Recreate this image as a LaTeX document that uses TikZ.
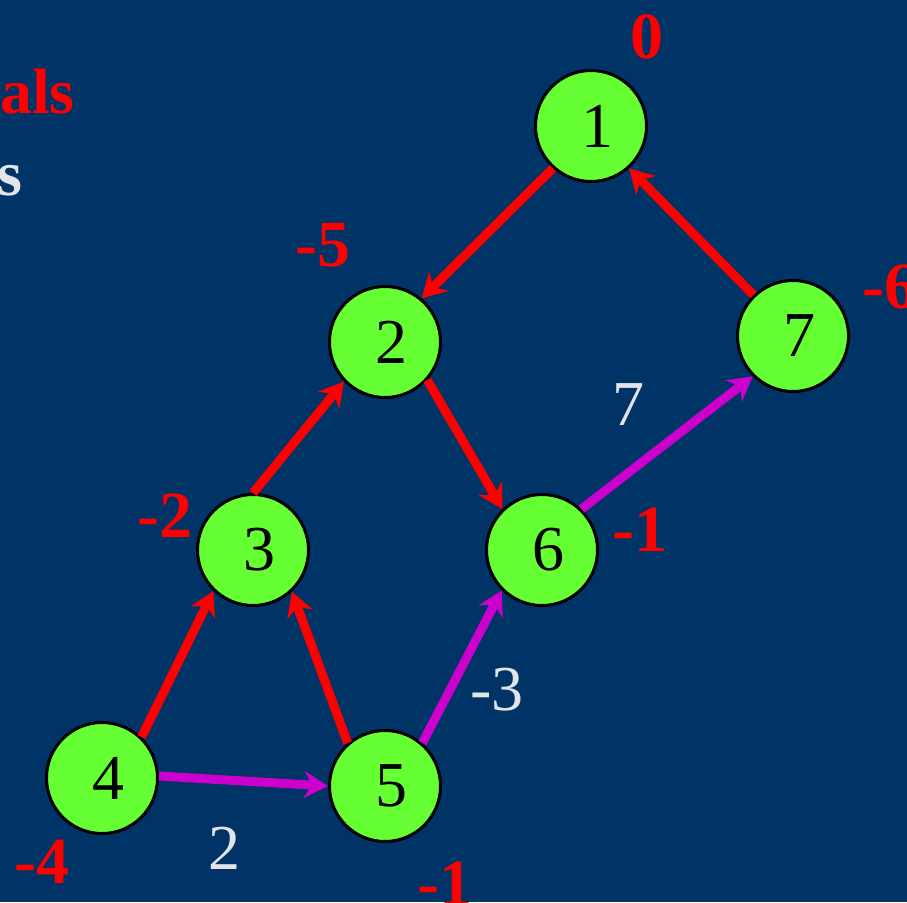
\documentclass[tikz,border=0pt]{standalone}
\usepackage{fontspec}
\setmainfont{Liberation Serif}
\usetikzlibrary{arrows.meta}
\definecolor{bg}{RGB}{0,51,102}
\definecolor{ngreen}{RGB}{102,255,51}
\definecolor{mag}{RGB}{204,0,204}
\definecolor{lgrey}{RGB}{225,228,232}
\begin{document}
\begin{tikzpicture}[x=1pt,y=-1pt,
  vert/.style={circle,draw=black,line width=3pt,fill=ngreen,minimum size=111pt,inner sep=0pt,font=\fontsize{64}{68}\selectfont},
  pot/.style={text=red,font=\fontsize{66}{70}\selectfont\bfseries,inner sep=0pt},
  wt/.style={text=lgrey,font=\fontsize{64}{68}\selectfont,inner sep=0pt},
  redarr/.style={draw=red,line width=9pt,-{Stealth[length=24pt,width=27pt,inset=8pt]}},
  magarr/.style={draw=mag,line width=9pt,-{Stealth[length=24pt,width=27pt,inset=8pt]}}]
\fill[bg] (0,0) rectangle (907,902);
\useasboundingbox (0,0) rectangle (907,902);
% title fragments
\node[anchor=base east,inner sep=0pt,text=red,font=\fontsize{64}{68}\selectfont\bfseries] (t1) at (75,113) {als};
\node[anchor=base east,inner sep=0pt,text=lgrey,font=\fontsize{64}{68}\selectfont\bfseries] (t2) at (23,195) {s};
% vertices
\node[vert] (n1) at (591,126) {\hspace*{12pt}1};
\node[vert] (n2) at (385,342) {\hspace*{12pt}2};
\node[vert] (n7) at (793,336) {\hspace*{12pt}7};
\node[vert] (n3) at (253,550) {\hspace*{12pt}3};
\node[vert] (n6) at (542,550) {\hspace*{12pt}6};
\node[vert] (n4) at (102,778) {\hspace*{12pt}4};
\node[vert] (n5) at (385,786) {\hspace*{12pt}5};
% edges
\draw[redarr] (n1.228) -- (n2.50);
\draw[redarr] (n7.134) -- (n1.312);
\draw[redarr] (n3.90) -- (n2.224);
\draw[redarr] (n2.318) -- (n6.134);
\draw[redarr] (n4.46) -- (n3.226);
\draw[redarr] (n5.131) -- (n3.313);
\draw[magarr] (n4.2) -- (n5.180);
\draw[magarr] (n5.49) -- (n6.225);
\draw[magarr] (n6.46) -- (n7.225);
% potentials
\node[pot] (p1) at (647,37) {0};
\node[pot] (p2) at (323,245) {-5};
\node[pot,anchor=west] (p7) at (862,287) {-6};
\node[pot] (p3) at (165,516) {-2};
\node[pot] (p6) at (640,530) {-1};
\node[pot] (p4) at (42,862) {-4};
\node[pot] (p5) at (445,884) {-1};
% weights
\node[wt] (w67) at (628,405) {7};
\node[wt] (w56) at (497,690) {-3};
\node[wt] (w45) at (224,848) {2};
\end{tikzpicture}
\end{document}
